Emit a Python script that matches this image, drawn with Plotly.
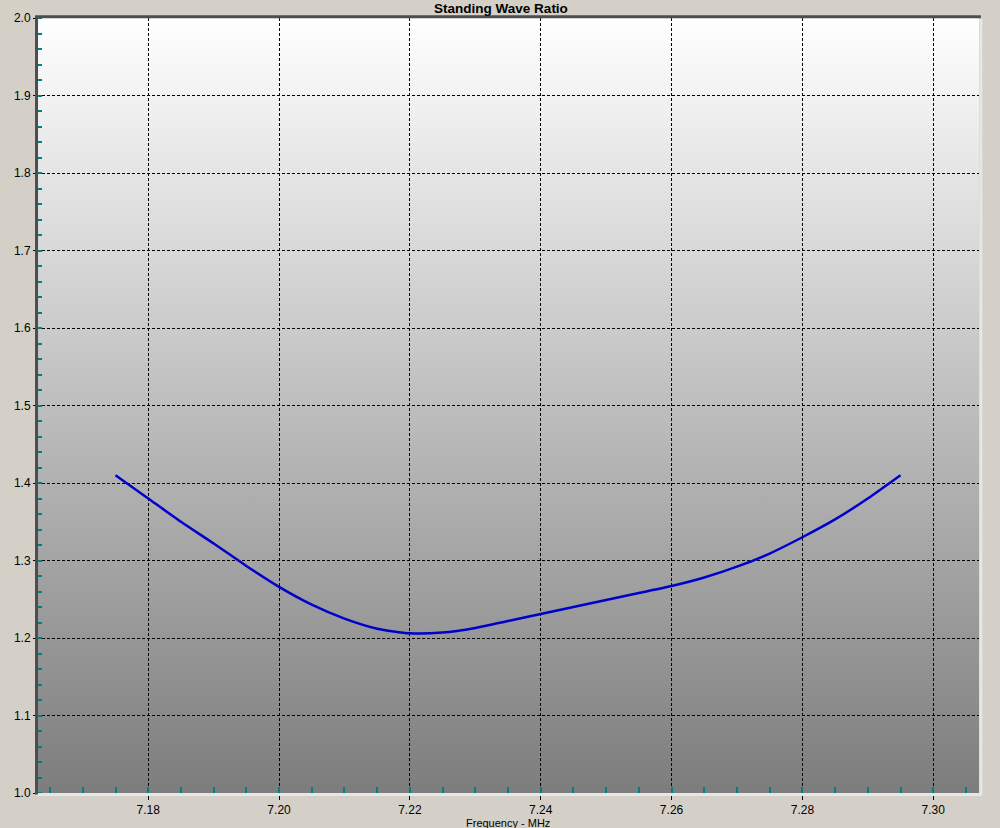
import base64
import plotly.graph_objects as go

# Data
freq_mhz = [7.175, 7.180, 7.185, 7.190, 7.195, 7.200, 7.205, 7.210, 7.215, 7.220,
            7.225, 7.230, 7.235, 7.240, 7.245, 7.250, 7.255, 7.260, 7.265, 7.270,
            7.275, 7.280, 7.285, 7.290, 7.295]
swr = [1.410, 1.380, 1.350, 1.322, 1.293, 1.266, 1.243, 1.225, 1.212, 1.206,
       1.207, 1.213, 1.222, 1.231, 1.240, 1.249, 1.258, 1.267, 1.278, 1.292,
       1.309, 1.330, 1.353, 1.380, 1.410]

x_ticks = [7.18, 7.20, 7.22, 7.24, 7.26, 7.28, 7.30]
x_tick_labels = ["7.18", "7.20", "7.22", "7.24", "7.26", "7.28", "7.30"]
y_ticks = [1.0, 1.1, 1.2, 1.3, 1.4, 1.5, 1.6, 1.7, 1.8, 1.9, 2.0]
y_tick_labels = ["1.0", "1.1", "1.2", "1.3", "1.4", "1.5", "1.6", "1.7", "1.8", "1.9", "2.0"]

title_text = "Standing Wave Ratio"
x_title = "Frequency - MHz"

FONT = "Liberation Sans, Arial, sans-serif"
TEAL = "#008080"

# vertical gradient background for the plot area
svg = ('<svg xmlns="http://www.w3.org/2000/svg" width="10" height="100" preserveAspectRatio="none">'
       '<defs><linearGradient id="g" x1="0" y1="0" x2="0" y2="1">'
       '<stop offset="0" stop-color="#ffffff"/><stop offset="1" stop-color="#7d7d7d"/>'
       '</linearGradient></defs><rect width="10" height="100" fill="url(#g)"/></svg>')
svg_uri = "data:image/svg+xml;base64," + base64.b64encode(svg.encode()).decode()

fig = go.Figure()
fig.add_trace(go.Scatter(
    x=freq_mhz, y=swr, mode="lines",
    line=dict(color="#0000cc", width=2.5, shape="spline", smoothing=0.6),
    showlegend=False, hoverinfo="x+y",
))

fig.update_layout(
    width=1000, height=828,
    paper_bgcolor="#d4d0c8",
    plot_bgcolor="#ffffff",
    margin=dict(l=37, r=21, t=18, b=35, autoexpand=False),
    font=dict(family=FONT, size=12, color="#000000"),
    title=dict(text="<b>" + title_text + "</b>", x=0.501, xanchor="center",
               y=1 - 8 / 828, yanchor="middle", font=dict(size=13.5, family=FONT)),
    images=[dict(source=svg_uri, xref="paper", yref="paper", x=0, y=1,
                 sizex=1, sizey=1, sizing="stretch", layer="below", xanchor="left", yanchor="top")],
    xaxis=dict(
        range=[7.163, 7.307], tickmode="array", tickvals=x_ticks, ticktext=x_tick_labels,
        automargin=False,
        showgrid=True, gridcolor="#000000", gridwidth=1, griddash="3px,2px",
        ticks="outside", ticklen=6, tickcolor="#000000", tickwidth=1,
        showline=False, zeroline=False, tickfont=dict(size=12),
        minor=dict(dtick=0.005, tick0=7.16, ticks="inside", ticklen=6, tickcolor=TEAL,
                   tickwidth=1.5, showgrid=False),
    ),
    yaxis=dict(
        range=[1.0, 2.0], tickmode="array", tickvals=y_ticks, ticktext=y_tick_labels,
        automargin=False,
        showgrid=True, gridcolor="#000000", gridwidth=1, griddash="3px,2px",
        ticks="outside", ticklen=3, tickcolor="#000000", tickwidth=1,
        showline=False, zeroline=False, tickfont=dict(size=12),
        minor=dict(dtick=0.02, tick0=1.0, ticks="inside", ticklen=5, tickcolor=TEAL,
                   tickwidth=1.5, showgrid=False),
    ),
    annotations=[dict(text=x_title, xref="paper", yref="paper", x=0.5, y=-(822.5 - 793) / 775,
                      xanchor="center", yanchor="middle", showarrow=False,
                      font=dict(size=11, family=FONT, color="#000000"))],
    shapes=[
        # sunken 3D border: light right/bottom, dark left/top
        dict(type="line", xref="paper", yref="paper", x0=1.002, x1=1.002, y0=-0.002, y1=0.999,
             line=dict(color="#e6e6e6", width=3), layer="above"),
        dict(type="line", xref="paper", yref="paper", x0=0, x1=1.003, y0=-0.002, y1=-0.002,
             line=dict(color="#e6e6e6", width=3), layer="above"),
        dict(type="line", xref="paper", yref="paper", x0=-0.0005, x1=-0.0005, y0=-0.002, y1=1.002,
             line=dict(color="#4d4d4d", width=3), layer="above"),
        dict(type="line", xref="paper", yref="paper", x0=-0.002, x1=1.002, y0=1.0015, y1=1.0015,
             line=dict(color="#4d4d4d", width=3), layer="above"),
    ],
)

fig.write_html("out.html", config={"displayModeBar": False},
               post_script="document.body.style.margin='0';document.body.style.padding='0';")
